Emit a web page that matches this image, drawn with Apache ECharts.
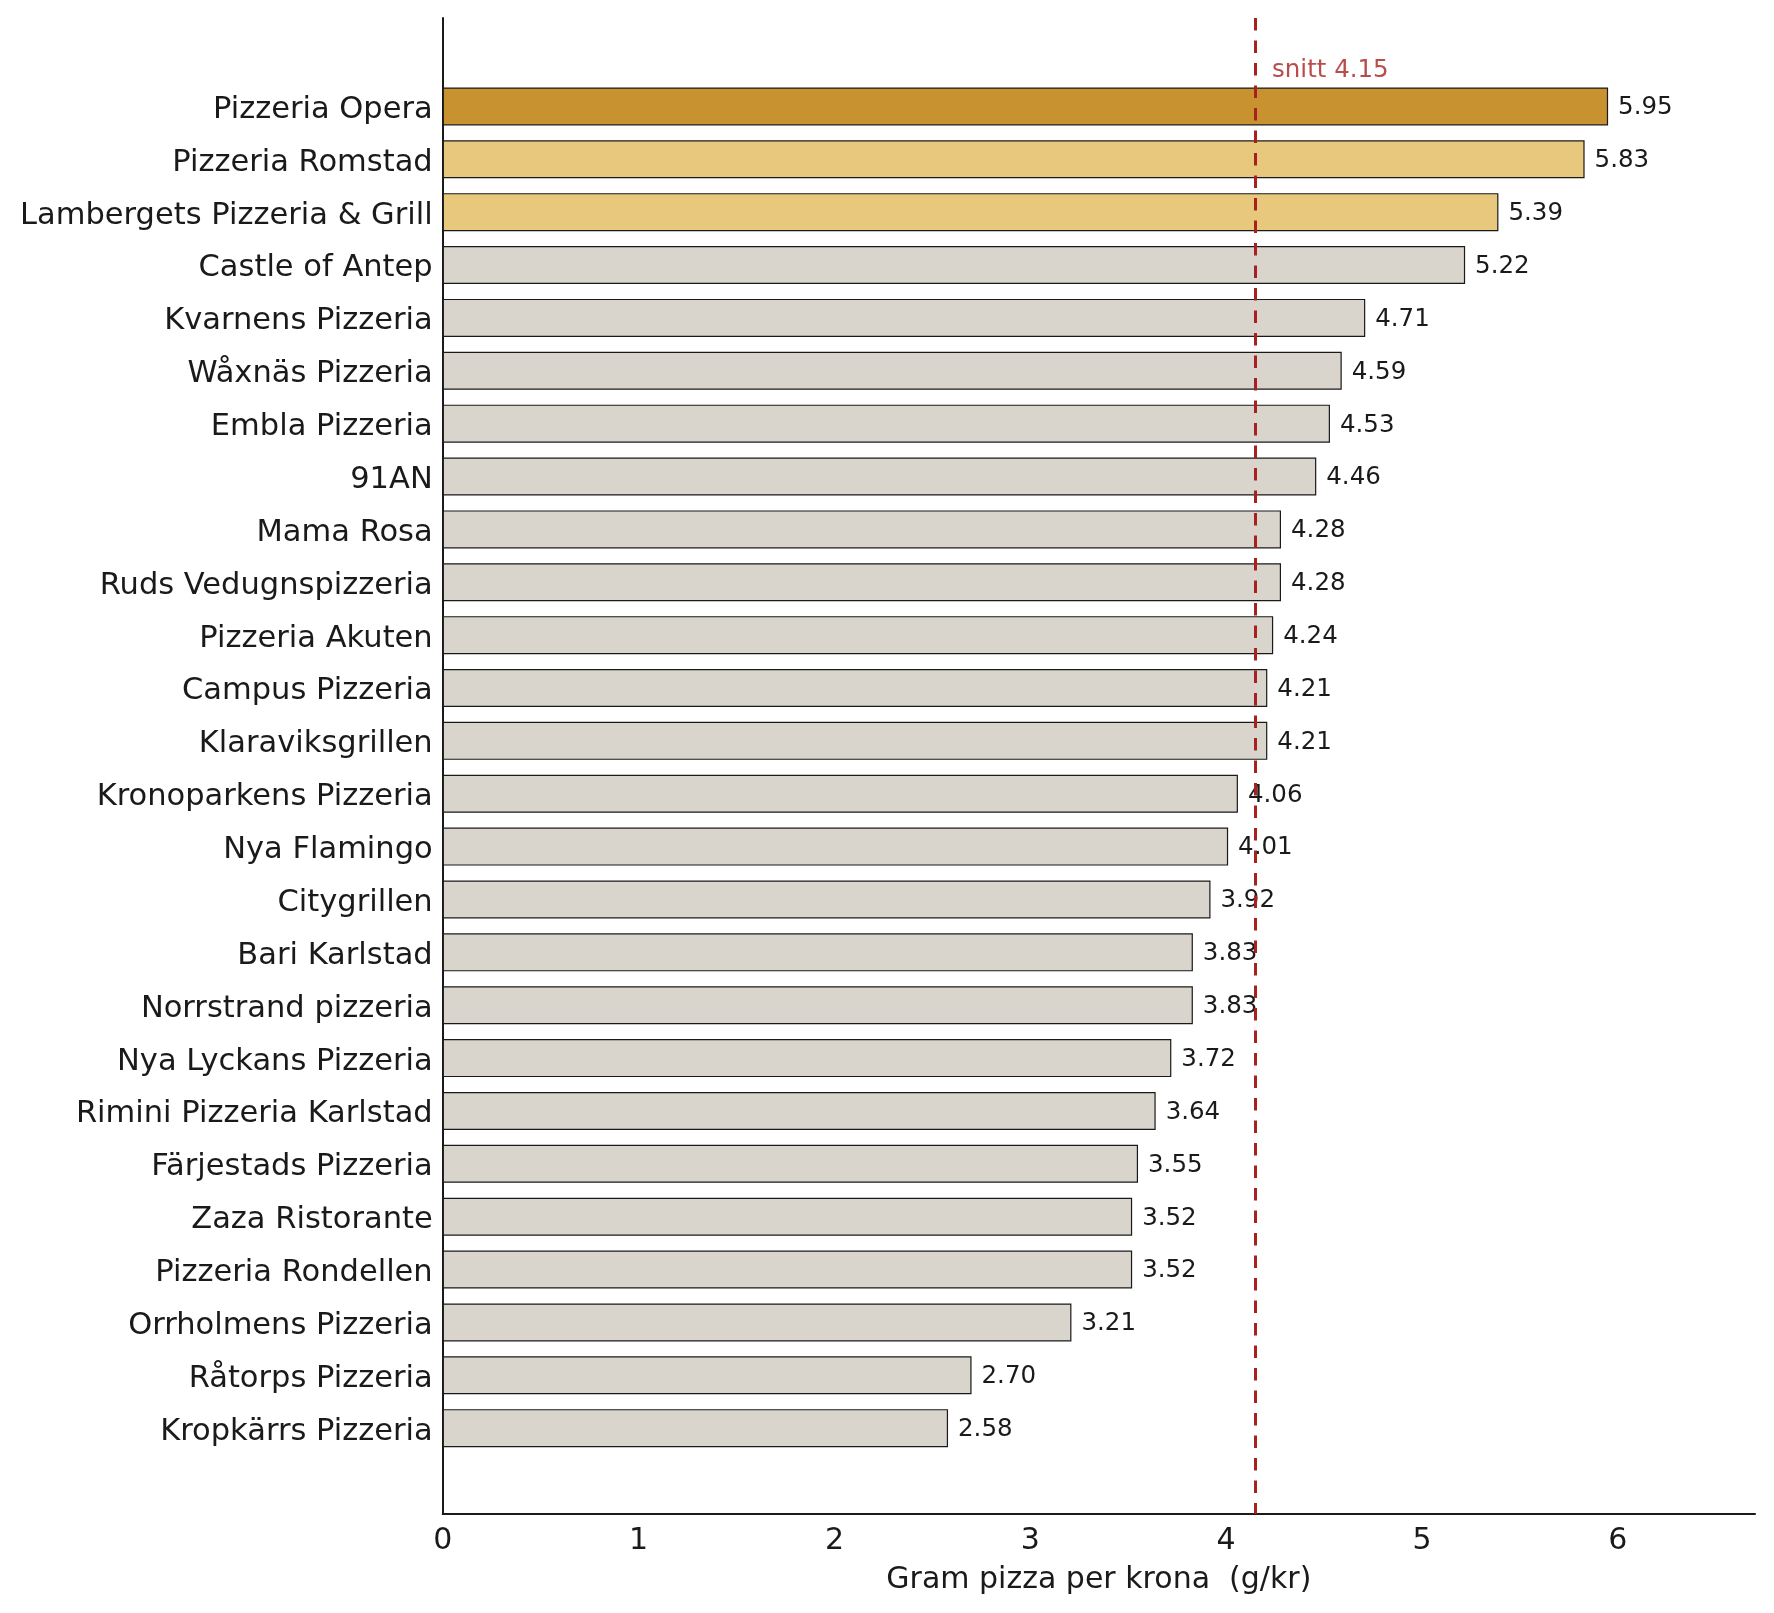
<!DOCTYPE html>
<html>
<head>
<meta charset="utf-8">
<script src="https://cdn.jsdelivr.net/npm/echarts@6/dist/echarts.min.js"></script>
<style>
  html, body { margin: 0; padding: 0; background: #ffffff; }
  #chart { width: 1774px; height: 1613px; }
</style>
</head>
<body>
<div id="chart"></div>
<script>
// ---- data ----
const names = [
  "Pizzeria Opera", "Pizzeria Romstad", "Lambergets Pizzeria & Grill", "Castle of Antep",
  "Kvarnens Pizzeria", "Wåxnäs Pizzeria", "Embla Pizzeria", "91AN", "Mama Rosa",
  "Ruds Vedugnspizzeria", "Pizzeria Akuten", "Campus Pizzeria", "Klaraviksgrillen",
  "Kronoparkens Pizzeria", "Nya Flamingo", "Citygrillen", "Bari Karlstad",
  "Norrstrand pizzeria", "Nya Lyckans Pizzeria", "Rimini Pizzeria Karlstad",
  "Färjestads Pizzeria", "Zaza Ristorante", "Pizzeria Rondellen", "Orrholmens Pizzeria",
  "Råtorps Pizzeria", "Kropkärrs Pizzeria"
];
const values = [
  5.95, 5.83, 5.39, 5.22, 4.71, 4.59, 4.53, 4.46, 4.28, 4.28, 4.24, 4.21, 4.21,
  4.06, 4.01, 3.92, 3.83, 3.83, 3.72, 3.64, 3.55, 3.52, 3.52, 3.21, 2.70, 2.58
];
const average = 4.15;
const averageLabel = "snitt 4.15";
const xTicks = [0, 1, 2, 3, 4, 5, 6];
const xAxisName = "Gram pizza per krona  (g/kr)";

// ---- styles ----
const FONT = "DejaVu Sans";
const TEXT = "#1a1a1a";
const GOLD = "#C89230";
const LIGHT_GOLD = "#E8C87C";
const GREY = "#D9D4CC";
const RED = "#A82020";
const XMAX = 6.7;

const barData = values.map((v, i) => ({
  value: v,
  itemStyle: { color: i === 0 ? GOLD : (i <= 2 ? LIGHT_GOLD : GREY) }
}));

const chart = echarts.init(document.getElementById("chart"), null, { renderer: "canvas" });
chart.setOption({
  animation: false,
  backgroundColor: "#ffffff",
  textStyle: { fontFamily: FONT, color: TEXT },
  grid: [
    { left: 442.7, right: 19, top: 18, bottom: 99, containLabel: false },
    { left: 442.7, right: 19, top: 80, bottom: 158.4, containLabel: false }
  ],
  xAxis: [
    {
      gridIndex: 0, type: "value", min: 0, max: XMAX, interval: 1,
      axisLine: { show: true, onZero: false, lineStyle: { color: TEXT, width: 2 } },
      axisTick: { show: false },
      splitLine: { show: false },
      axisLabel: {
        show: true, fontSize: 30, fontFamily: FONT, color: TEXT, margin: 12,
        showMaxLabel: false,
        formatter: v => (xTicks.indexOf(v) >= 0 ? String(v) : "")
      },
      name: xAxisName, nameLocation: "middle", nameGap: 51,
      nameTextStyle: { fontSize: 30, fontFamily: FONT, color: TEXT }
    },
    {
      gridIndex: 1, type: "value", min: 0, max: XMAX, show: false,
      axisLine: { show: false, onZero: false }
    }
  ],
  yAxis: [
    {
      gridIndex: 0, type: "value", min: -1.668, max: 26.62, inverse: true,
      axisLine: { show: true, onZero: false, lineStyle: { color: TEXT, width: 2 } },
      axisTick: { show: false }, axisLabel: { show: false }, splitLine: { show: false }
    },
    {
      gridIndex: 1, type: "category", inverse: true, data: names,
      axisLine: { show: false, onZero: false }, axisTick: { show: false }, splitLine: { show: false },
      axisLabel: {
        fontSize: 30.5, fontFamily: FONT, color: TEXT, margin: 10,
        formatter: v => "{n|" + v + "}",
        rich: { n: { fontSize: 30.5, fontFamily: FONT, color: TEXT, padding: [7, 0, 0, 0] } }
      }
    }
  ],
  series: [
    {
      type: "bar", xAxisIndex: 1, yAxisIndex: 1, data: barData,
      barWidth: 38, z: 2,
      itemStyle: { borderColor: TEXT, borderWidth: 1.2 },
      label: {
        show: true, position: "right", distance: 10,
        fontSize: 24.5, fontFamily: FONT, color: TEXT,
        formatter: p => "{v|" + p.value.toFixed(2) + "}",
        rich: { v: { fontSize: 24.5, fontFamily: FONT, color: TEXT, padding: [3, 0, 0, 0] } }
      }
    },
    {
      type: "scatter", xAxisIndex: 0, yAxisIndex: 0, z: 10,
      data: [[average, -0.67]], symbolSize: 0, silent: true,
      label: {
        show: true, position: "right", distance: 16.5,
        fontSize: 24.5, fontFamily: FONT, color: RED,
        formatter: () => averageLabel
      },
      markLine: {
        silent: true, symbol: ["none", "none"], z: 10,
        label: { show: false },
        lineStyle: { color: RED, width: 3, type: [12.5, 10], opacity: 1 },
        emphasis: { disabled: true },
        data: [{ xAxis: average }]
      }
    }
  ]
});
</script>
</body>
</html>
